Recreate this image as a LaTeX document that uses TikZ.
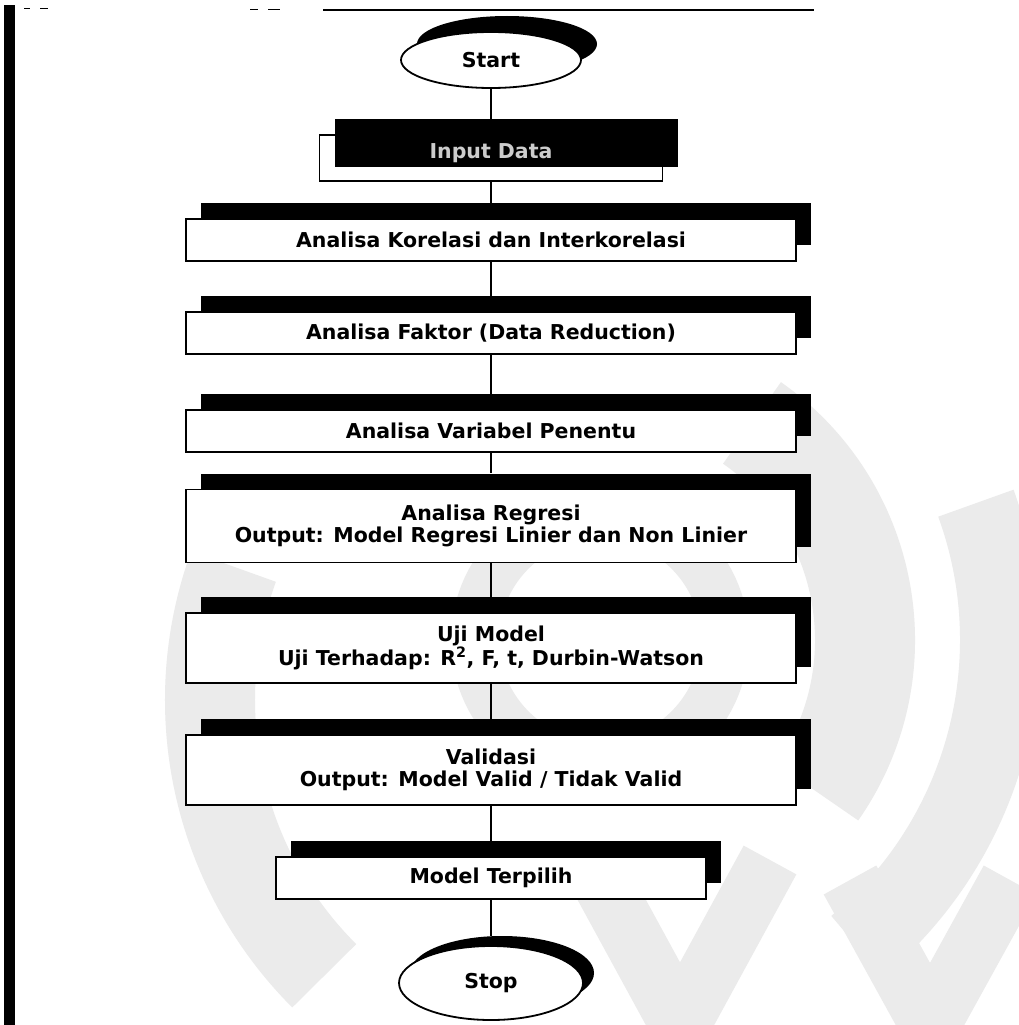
\documentclass[tikz,border=0pt]{standalone}
\usepackage{fontspec}
\setmainfont{DejaVu Sans}
\usetikzlibrary{shapes.geometric}

\tikzset{
  boxtext/.style={font=\bfseries\fontsize{20.5}{22}\selectfont},
  flowbox/.style={boxtext, draw=black, line width=1.8pt, fill=white,
    rectangle, inner sep=0pt, align=center},
  shadowbox/.style={fill=black, rectangle, inner sep=0pt},
  terminal/.style={boxtext, draw=black, line width=1.8pt, fill=white,
    ellipse, inner sep=0pt},
  shadowterm/.style={fill=black, ellipse, inner sep=0pt},
  link/.style={draw=black, line width=2.2pt},
  watermark/.style={draw=gray!16, line cap=butt},
}

\begin{document}
\begin{tikzpicture}[x=1pt, y=-1pt]
  % page frame
  \useasboundingbox (0,0) rectangle (1019,1025);
  \fill[white] (0,0) rectangle (1019,1025);

  % faint background emblem
  \begin{scope}[watermark]
    \draw[line width=48pt] (600,640) circle (125);
    \draw[line width=100pt] (600,640) ++(-55:265) arc (-55:35:265);
    \draw[line width=80pt]  (600,640) ++(-20:400) arc (-20:50:400);
    \draw[line width=90pt]  (600,700) ++(135:390) arc (135:200:390);
    \draw[line width=60pt]  (590,860) -- (680,1025) -- (770,860);
    \draw[line width=60pt]  (850,880) -- (930,1025) -- (1010,880);
  \end{scope}

  % scanned page edge and top rule
  \fill[black] (4,5) rectangle (15,1025);
  \draw[line width=1.5pt] (323,10) -- (814,10);
  \draw[line width=1pt] (24,9) -- (30,9) (40,9) -- (48,9) (250,10) -- (258,10) (268,10) -- (280,10);

  % shadows
  \node[shadowterm, minimum width=180pt, minimum height=56pt] (startsh) at (507,44) {};
  \node[shadowbox, minimum width=610pt, minimum height=42pt] (korsh) at (506,224) {};
  \node[shadowbox, minimum width=610pt, minimum height=42pt] (faksh) at (506,317) {};
  \node[shadowbox, minimum width=610pt, minimum height=42pt] (varsh) at (506,415) {};
  \node[shadowbox, minimum width=610pt, minimum height=73pt] (regsh) at (506,510) {};
  \node[shadowbox, minimum width=610pt, minimum height=70pt] (ujish) at (506,632) {};
  \node[shadowbox, minimum width=610pt, minimum height=70pt] (valsh) at (506,754) {};
  \node[shadowbox, minimum width=430pt, minimum height=42pt] (modsh) at (506,862) {};
  \node[shadowterm, minimum width=184pt, minimum height=74pt] (stopsh) at (502,973) {};

  % process steps
  \node[terminal, minimum width=180pt, minimum height=56pt] (start) at (491,60) {Start};
  \node[flowbox, minimum width=343pt, minimum height=46pt] (input) at (491,158) {};
  \node[shadowbox, minimum width=343pt, minimum height=48pt] (inputsh) at (506,143) {};
  \node[boxtext, text=white!80!black] (inputlbl) at (491,153) {Input Data};
  \node[flowbox, minimum width=610pt, minimum height=42pt] (kor) at (491,240) {Analisa Korelasi dan Interkorelasi};
  \node[flowbox, minimum width=610pt, minimum height=42pt] (fak) at (491,333) {Analisa Faktor (Data Reduction)};
  \node[flowbox, minimum width=610pt, minimum height=42pt] (var) at (491,431) {Analisa Variabel Penentu};
  \node[flowbox, minimum width=610pt, minimum height=73pt] (reg) at (491,526) {Analisa Regresi\\Output: Model Regresi Linier dan Non Linier};
  \node[flowbox, minimum width=610pt, minimum height=70pt] (uji) at (491,648) {Uji Model\\Uji Terhadap: R\textsuperscript{2}, F, t, Durbin-Watson};
  \node[flowbox, minimum width=610pt, minimum height=70pt] (val) at (491,770) {Validasi\\Output: Model Valid / Tidak Valid};
  \node[flowbox, minimum width=430pt, minimum height=42pt] (mod) at (491,878) {Model Terpilih};
  \node[terminal, minimum width=184pt, minimum height=74pt] (stop) at (491,983) {Stop};

  % connectors
  \draw[link] (start.south) -- (start.south |- inputsh.north);
  \draw[link] (input.south) -- (input.south |- korsh.north);
  \draw[link] (kor.south) -- (kor.south |- faksh.north);
  \draw[link] (fak.south) -- (fak.south |- varsh.north);
  \draw[link] (var.south) -- (var.south |- regsh.north);
  \draw[link] (reg.south) -- (reg.south |- ujish.north);
  \draw[link] (uji.south) -- (uji.south |- valsh.north);
  \draw[link] (val.south) -- (val.south |- modsh.north);
  \draw[link] (mod.south) -- (mod.south |- stopsh.north);
\end{tikzpicture}
\end{document}
